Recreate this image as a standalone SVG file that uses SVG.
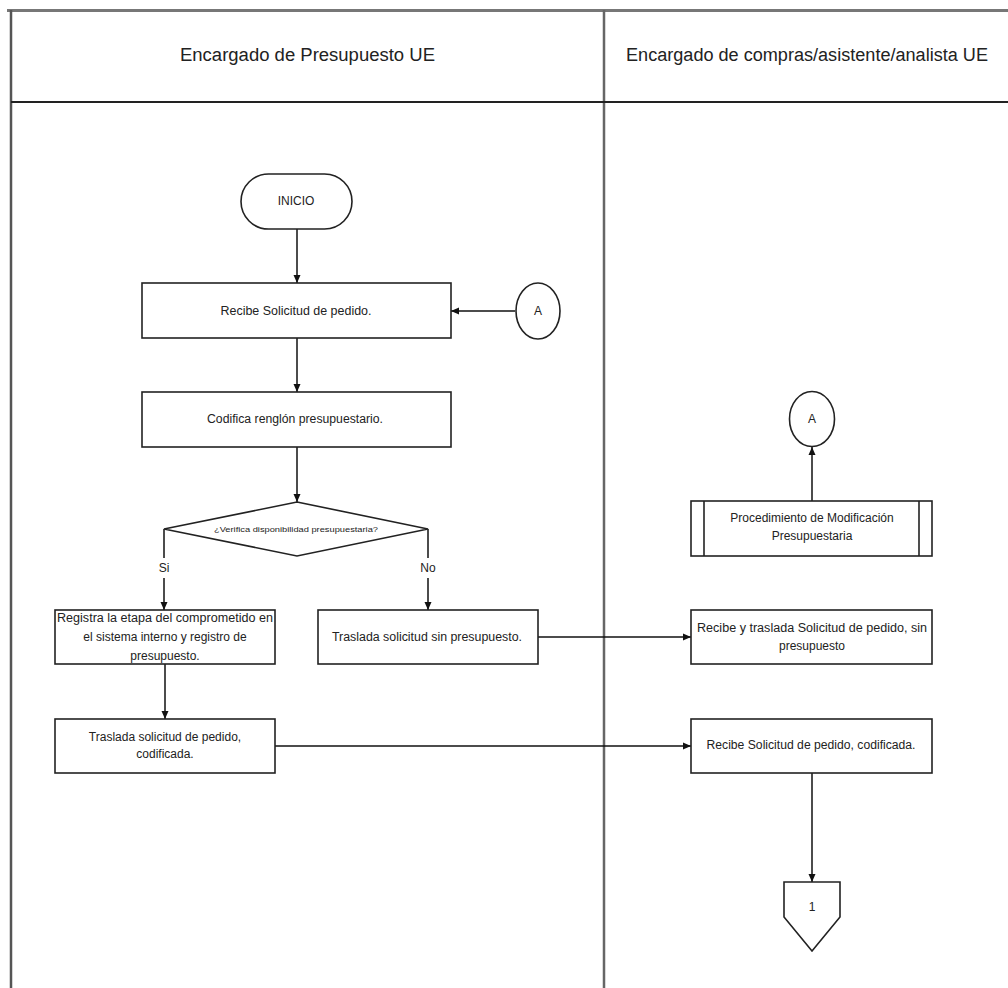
<svg xmlns="http://www.w3.org/2000/svg" width="1008" height="988" viewBox="0 0 1008 988">
<style>
  .lane{stroke:#555;stroke-width:2.5;fill:none}
  .hdr{stroke:#222;stroke-width:2;fill:none}
  .box{fill:#fff;stroke:#222;stroke-width:1.6}
  .conn{stroke:#111;stroke-width:1.5;fill:none}
  text{font-family:"Liberation Sans",Arial,sans-serif;fill:#222;text-anchor:middle}
  .ht{font-size:18px}
  .t{font-size:12px}
  .s{font-size:8px}
</style>
<defs>
  <marker id="ah" markerWidth="8" markerHeight="8" refX="8" refY="4" orient="auto" markerUnits="userSpaceOnUse">
    <path d="M0,0.5 L8,4 L0,7.5 Z" fill="#111"/>
  </marker>
</defs>
<rect width="1008" height="988" fill="#fff"/>
<g id="lanes">
  <line class="lane" x1="7" y1="10.5" x2="1008" y2="10.5" style="stroke:#777;stroke-width:3"/>
  <line class="lane" x1="11" y1="10" x2="11" y2="988"/>
  <line class="lane" x1="604" y1="10" x2="604" y2="988" style="stroke:#666"/>
  <line class="hdr" x1="11" y1="102" x2="1008" y2="102"/>
  <text class="ht" x="307.5" y="61" textLength="255" lengthAdjust="spacingAndGlyphs">Encargado de Presupuesto UE</text>
  <text class="ht" x="807" y="61" textLength="362" lengthAdjust="spacingAndGlyphs">Encargado de compras/asistente/analista UE</text>
</g>
<g id="connectors">
  <line class="conn" x1="297" y1="229" x2="297" y2="283" marker-end="url(#ah)"/>
  <line class="conn" x1="515" y1="311" x2="451" y2="311" marker-end="url(#ah)"/>
  <line class="conn" x1="297" y1="338" x2="297" y2="392" marker-end="url(#ah)"/>
  <line class="conn" x1="297" y1="447" x2="297" y2="502" marker-end="url(#ah)"/>
  <line class="conn" x1="164" y1="529" x2="164" y2="558"/>
  <line class="conn" x1="164" y1="578" x2="164" y2="610" marker-end="url(#ah)"/>
  <text class="t" x="164" y="572">Si</text>
  <line class="conn" x1="428" y1="529" x2="428" y2="558"/>
  <line class="conn" x1="428" y1="578" x2="428" y2="610" marker-end="url(#ah)"/>
  <text class="t" x="428" y="572">No</text>
  <line class="conn" x1="538" y1="637" x2="691" y2="637" marker-end="url(#ah)"/>
  <line class="conn" x1="165" y1="664" x2="165" y2="719" marker-end="url(#ah)"/>
  <line class="conn" x1="275" y1="746" x2="691" y2="746" marker-end="url(#ah)"/>
  <line class="conn" x1="812" y1="501" x2="812" y2="447" marker-end="url(#ah)"/>
  <line class="conn" x1="812" y1="773" x2="812" y2="882" marker-end="url(#ah)"/>
</g>
<g id="inicio">
  <rect class="box" x="241" y="174" width="111" height="55" rx="27.5"/>
  <text class="t" x="296" y="205">INICIO</text>
</g>
<g id="recibe">
  <rect class="box" x="142" y="283" width="309" height="55"/>
  <text class="t" x="296" y="315" textLength="151" lengthAdjust="spacingAndGlyphs">Recibe Solicitud de pedido.</text>
</g>
<g id="conectorA1">
  <ellipse class="box" cx="538" cy="311" rx="22" ry="28"/>
  <text class="t" x="538" y="315">A</text>
</g>
<g id="codifica">
  <rect class="box" x="142" y="392" width="309" height="55"/>
  <text class="t" x="295" y="423" textLength="176" lengthAdjust="spacingAndGlyphs">Codifica renglón presupuestario.</text>
</g>
<g id="decision">
  <polygon class="box" points="297,502 428,529 297,556 164,529"/>
  <text class="s" x="296" y="532" textLength="164" lengthAdjust="spacingAndGlyphs">¿Verifica disponibilidad presupuestaria?</text>
</g>
<g id="registra">
  <rect class="box" x="55" y="610" width="220" height="54"/>
  <text class="t" x="165" y="622" textLength="216" lengthAdjust="spacingAndGlyphs">Registra la etapa del comprometido en</text>
  <text class="t" x="165" y="641">el sistema interno y registro de</text>
  <text class="t" x="165" y="660">presupuesto.</text>
</g>
<g id="traslada-sin">
  <rect class="box" x="318" y="610" width="220" height="54"/>
  <text class="t" x="427" y="641" textLength="190" lengthAdjust="spacingAndGlyphs">Traslada solicitud sin presupuesto.</text>
</g>
<g id="traslada-cod">
  <rect class="box" x="55" y="719" width="220" height="54"/>
  <text class="t" x="165" y="741">Traslada solicitud de pedido,</text>
  <text class="t" x="165" y="758">codificada.</text>
</g>
<g id="conectorA2">
  <ellipse class="box" cx="812" cy="419" rx="22.5" ry="27.5"/>
  <text class="t" x="812" y="423">A</text>
</g>
<g id="procedimiento">
  <rect class="box" x="691" y="501" width="241" height="55"/>
  <line class="box" x1="704" y1="501" x2="704" y2="556"/>
  <line class="box" x1="919" y1="501" x2="919" y2="556"/>
  <text class="t" x="812" y="522">Procedimiento de Modificación</text>
  <text class="t" x="812" y="540">Presupuestaria</text>
</g>
<g id="recibe-traslada">
  <rect class="box" x="691" y="610" width="241" height="54"/>
  <text class="t" x="812" y="632" textLength="230" lengthAdjust="spacingAndGlyphs">Recibe y traslada  Solicitud de pedido, sin</text>
  <text class="t" x="812" y="650">presupuesto</text>
</g>
<g id="recibe-cod">
  <rect class="box" x="691" y="719" width="241" height="54"/>
  <text class="t" x="811" y="749" textLength="209" lengthAdjust="spacingAndGlyphs">Recibe Solicitud de pedido, codificada.</text>
</g>
<g id="conector1">
  <polygon class="box" points="784,882 840,882 840,917 812,951 784,917"/>
  <text class="t" x="812" y="911">1</text>
</g>
</svg>
